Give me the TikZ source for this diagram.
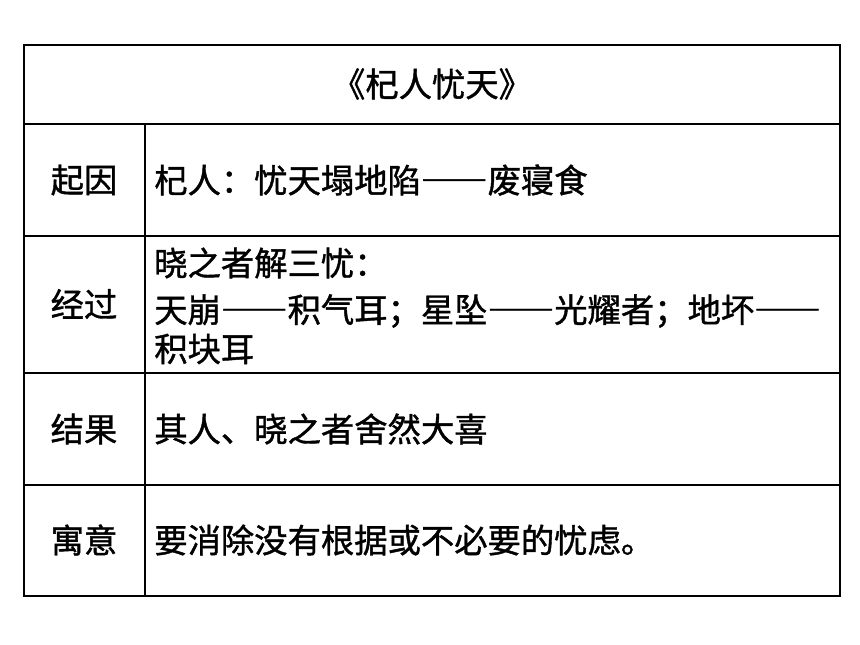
\documentclass[tikz,border=0pt]{standalone}
\usepackage{fontspec}
\setmainfont[CharacterWidth=Full,FakeBold=1.2]{Noto Sans CJK SC}
\begin{document}
\begin{tikzpicture}[x=0.75pt,y=-0.75pt,
    cell/.style={font=\fontsize{25}{30}\selectfont, inner sep=0pt},
    txt/.style={cell, anchor=west}]
    \useasboundingbox (0,0) rectangle (860,645);
    % table frame
    \draw[line width=1.6pt] (24,45) rectangle (840,596);
    \foreach \y in {124,236,373,485}
        \draw[line width=0.8pt] (24,\y) -- (840,\y);
    \draw[line width=0.8pt] (145,124) -- (145,596);
    % title
    \node[cell] (title) at (432,84) {《杞人忧天》};
    % left column
    \node[cell] (l1) at (84,180) {起因};
    \node[cell] (l2) at (84,304) {经过};
    \node[cell] (l3) at (84,429) {结果};
    \node[cell] (l4) at (84,540) {寓意};
    % right column
    \node[txt] (r1) at (154,180) {杞人：忧天塌地陷——废寝食};
    \node[txt] (r2a) at (154,263) {晓之者解三忧：};
    \node[txt] (r2b) at (154,311) {天崩——积气耳；星坠——光耀者；地坏——};
    \node[txt] (r2c) at (154,349) {积块耳};
    \node[txt] (r3) at (154,429) {其人、晓之者舍然大喜};
    \node[txt] (r4) at (154,540) {要消除没有根据或不必要的忧虑。};
\end{tikzpicture}
\end{document}
